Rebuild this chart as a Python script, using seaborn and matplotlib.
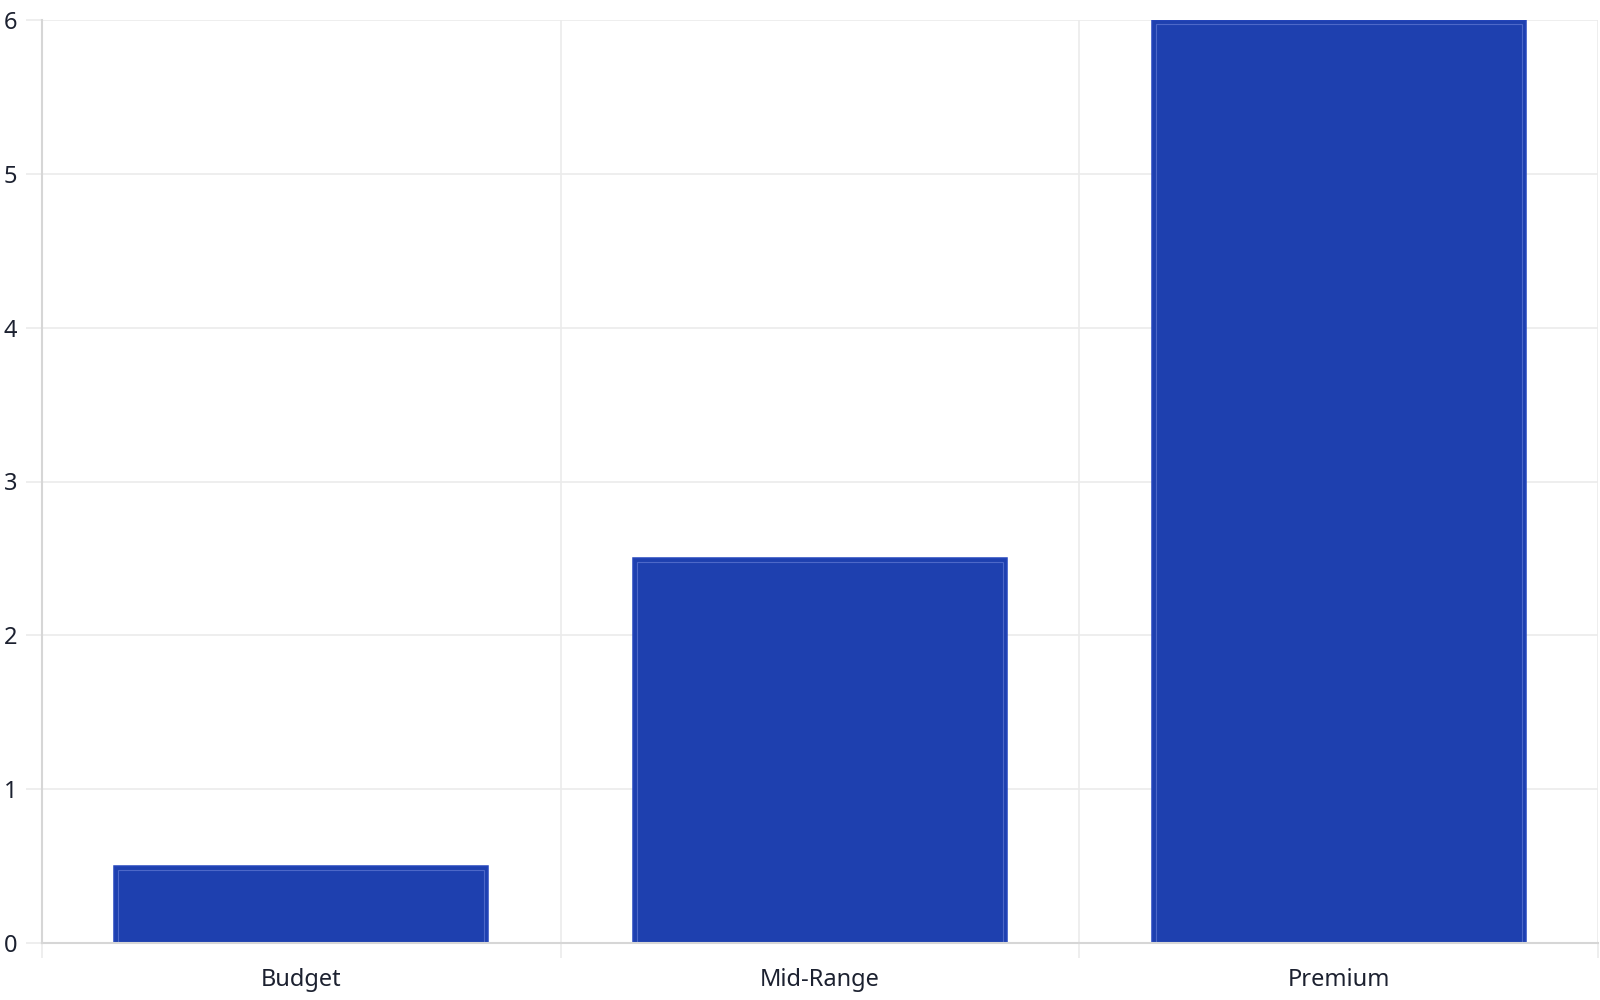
import matplotlib
matplotlib.use("Agg")
import matplotlib.pyplot as plt
from matplotlib.patches import Rectangle
from matplotlib.ticker import FixedLocator
import seaborn as sns
import pandas as pd

categories = ["Budget", "Mid-Range", "Premium"]
values = [0.5, 2.5, 6.0]
y_ticks = [0, 1, 2, 3, 4, 5, 6]

df = pd.DataFrame({"tier": categories, "value": values})

sns.set_theme(style="white")
plt.rcParams["font.family"] = ["Noto Sans", "DejaVu Sans"]

bar_color = "#1e40af"
edge_color = "#2546bc"
inner_color = "#4d68c8"
grid_color = "#ebebeb"
spine_color = "#d6d6d6"
text_color = "#1c2130"

fig = plt.figure(figsize=(16, 10), dpi=100)
ax = fig.add_axes([0.026, 0.057, 0.973, 0.923])

sns.barplot(data=df, x="tier", y="value", color=bar_color, width=0.72,
            edgecolor=edge_color, linewidth=1.1, saturation=1, ax=ax, zorder=3)

ax.set_xlim(-0.5, len(categories) - 0.5)
ax.set_ylim(0, 6)
ax.set_yticks(y_ticks)
ax.set_xlabel("")
ax.set_ylabel("")

# thin inner outline a few pixels inside each bar
fig.canvas.draw()
px_x = 4 * (ax.get_xlim()[1] - ax.get_xlim()[0]) / ax.bbox.width
px_y = 4 * (ax.get_ylim()[1] - ax.get_ylim()[0]) / ax.bbox.height
for p in list(ax.patches):
    x0, w, h = p.get_x(), p.get_width(), p.get_height()
    ax.add_patch(Rectangle((x0 + px_x, 0), w - 2 * px_x, h - px_y,
                           fill=False, edgecolor=inner_color, linewidth=0.8, zorder=4))

# category boundaries as vertical grid lines reaching below the axis
ax.xaxis.set_minor_locator(FixedLocator([i - 0.5 for i in range(len(categories) + 1)]))
ax.grid(True, which="minor", axis="x", color=grid_color, linewidth=1.2, zorder=0)
ax.grid(True, which="major", axis="y", color=grid_color, linewidth=1.2, zorder=0)
ax.grid(False, which="major", axis="x")
ax.tick_params(axis="x", which="minor", length=11, width=1.2, color=grid_color, bottom=True)
ax.tick_params(axis="x", which="major", length=0, pad=18, labelsize=17, labelcolor=text_color)
ax.tick_params(axis="y", which="major", length=11.5, width=1.2, color=grid_color, left=True,
               pad=6, labelsize=17, labelcolor=text_color)

for side in ["top", "right"]:
    ax.spines[side].set_visible(False)
for side in ["left", "bottom"]:
    ax.spines[side].set_color(spine_color)
    ax.spines[side].set_linewidth(1.5)
    ax.spines[side].set_zorder(5)

fig.savefig("out.png", dpi=100)
